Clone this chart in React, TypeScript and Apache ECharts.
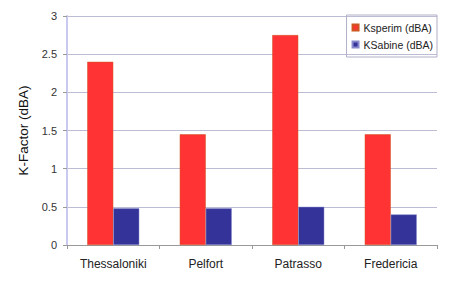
import React, { useEffect, useRef } from "react";
import * as echarts from "echarts";

const categories = ["Thessaloniki", "Pelfort", "Patrasso", "Fredericia"];
const ksperim = [2.4, 1.45, 2.75, 1.45];
const ksabine = [0.48, 0.48, 0.5, 0.4];
const yTicks = [0, 0.5, 1, 1.5, 2, 2.5, 3];

export default function App() {
  const ref = useRef<HTMLDivElement>(null);
  useEffect(() => {
    const chart = echarts.init(ref.current!, null, { renderer: "svg" });
    chart.setOption({
      animation: false,
      backgroundColor: "#ffffff",
      textStyle: { fontFamily: "Liberation Sans, Arial, sans-serif" },
      grid: { left: 67, right: 28, top: 16, bottom: 45, containLabel: false },
      legend: {
        right: 28,
        top: 15,
        orient: "vertical",
        itemWidth: 6,
        itemHeight: 6,
        itemGap: 6,
        padding: [7, 4, 7, 5],
        borderColor: "#b0b0c8",
        borderWidth: 1,
        icon: "rect",
        textStyle: { fontSize: 10.5, color: "#222" },
        data: ["Ksperim (dBA)", "KSabine (dBA)"],
      },
      xAxis: {
        type: "category",
        data: categories,
        axisLine: { lineStyle: { color: "#999", width: 1 } },
        axisTick: { show: true, alignWithLabel: false, lineStyle: { color: "#999" }, length: 4 },
        axisLabel: { fontSize: 12, color: "#222", margin: 13 },
      },
      yAxis: {
        type: "value",
        min: 0,
        max: 3,
        interval: 0.5,
        name: "K-Factor (dBA)",
        nameLocation: "middle",
        nameGap: 35,
        nameTextStyle: { fontSize: 13.5, color: "#111" },
        axisLine: { show: true, lineStyle: { color: "#c8c8f0", width: 2 } },
        axisTick: { show: true, length: 4, lineStyle: { color: "#999" } },
        axisLabel: {
          fontSize: 11,
          color: "#333",
          margin: 10,
          formatter: (v: number) => (yTicks.includes(v) ? String(v) : ""),
        },
        splitLine: { show: true, lineStyle: { color: "#bcbcd4", width: 1 } },
      },
      series: [
        {
          name: "Ksperim (dBA)",
          type: "bar",
          data: ksperim,
          barWidth: 26,
          barGap: "0%",
          itemStyle: { color: "#ff3333", borderColor: "#cc5522", borderWidth: 0.5 },
        },
        {
          name: "KSabine (dBA)",
          type: "bar",
          data: ksabine,
          barWidth: 26,
          barGap: "0%",
          itemStyle: { color: "#333399", borderColor: "#8888cc", borderWidth: 0.5 },
        },
      ],
    });
    return () => chart.dispose();
  }, []);
  return <div ref={ref} style={{ width: 465, height: 290, margin: -8 }} />;
}
